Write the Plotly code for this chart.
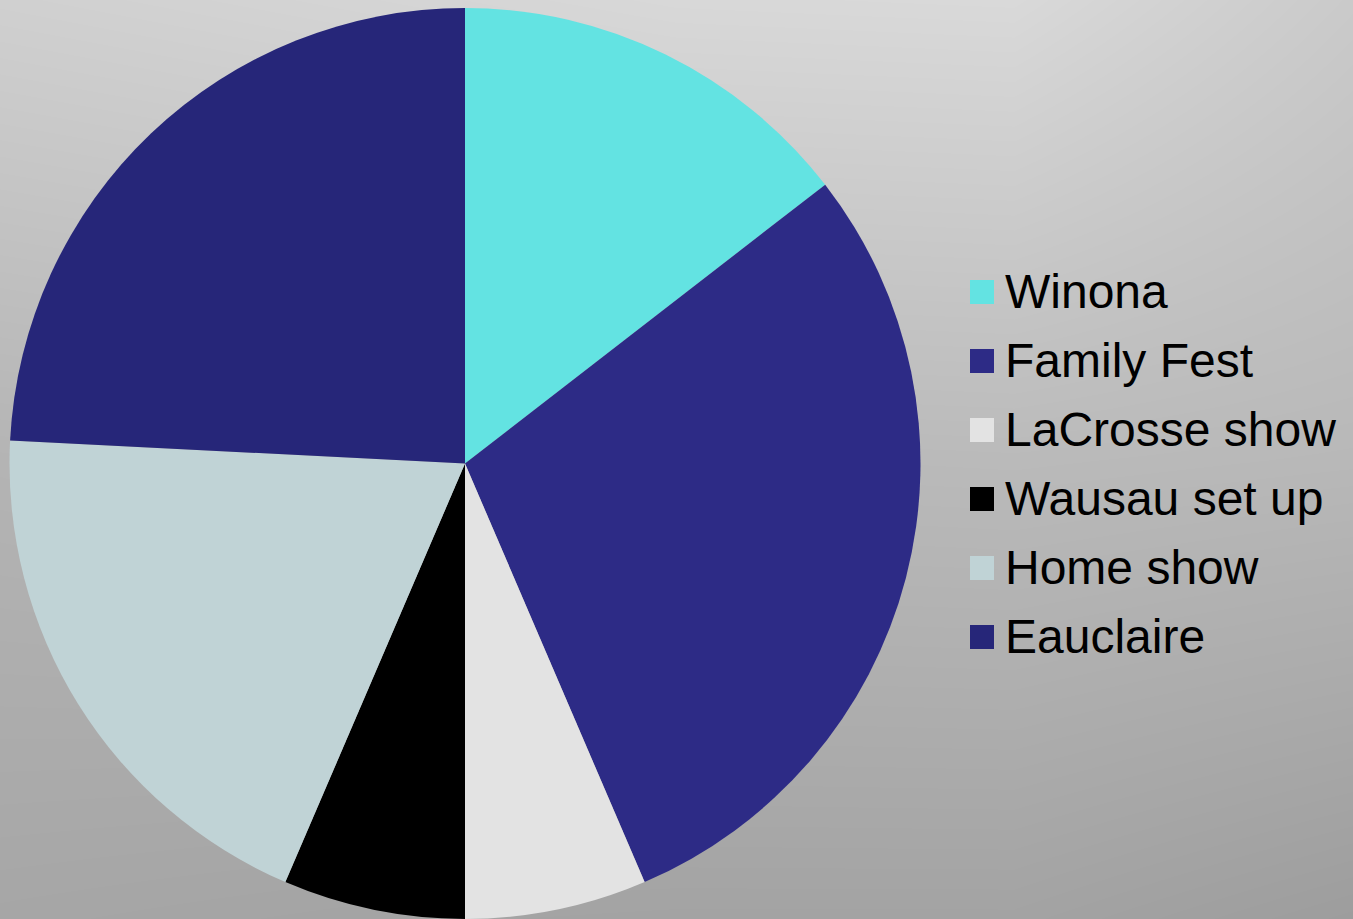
import plotly.graph_objects as go

# ---- data ----
labels = ["Winona", "Family Fest", "LaCrosse show", "Wausau set up", "Home show", "Eauclaire"]
values = [9, 18, 4, 4, 12, 15]
colors = ["#63E3E2", "#2D2B86", "#E3E3E3", "#000000", "#C0D3D6", "#262679"]

W, H = 1353, 919

# ---- background gradient (style only) ----
bg_x = [0, 338, 676, 1014, 1353]
bg_y = [0, 460, 919]
bg_z = [
    [208, 212, 216, 217, 202],
    [180, 183, 185, 186, 184],
    [166, 164, 163, 163, 157],
]

fig = go.Figure()
fig.add_trace(go.Heatmap(
    x=bg_x, y=bg_y, z=bg_z, zmin=0, zmax=255, zsmooth="best",
    colorscale=[[0, "rgb(0,0,0)"], [1, "rgb(255,255,255)"]],
    showscale=False, hoverinfo="skip",
))

fig.add_trace(go.Pie(
    labels=labels, values=values, sort=False, direction="clockwise", rotation=0,
    marker=dict(colors=colors, line=dict(width=0)),
    textinfo="none", hoverinfo="label+value+percent",
    domain=dict(x=[9 / W, 921 / W], y=[0, (H - 8) / H]),
    showlegend=False,
))

# ---- custom legend (large squares like the original) ----
leg_x0, sq = 970, 24
row0, step = 292, 69
shapes, annos = [], []
for i, (lab, col) in enumerate(zip(labels, colors)):
    cy = row0 + i * step
    shapes.append(dict(type="rect", xref="x", yref="y",
                       x0=leg_x0, x1=leg_x0 + sq, y0=cy - sq / 2, y1=cy + sq / 2,
                       fillcolor=col, line=dict(width=0), layer="above"))
    annos.append(dict(xref="x", yref="y", x=1003, y=cy - 1, text=lab, showarrow=False,
                      xanchor="left", yanchor="middle",
                      font=dict(family="Liberation Sans, Arial, sans-serif", size=48, color="#000000")))

fig.update_layout(
    width=W, height=H, margin=dict(l=0, r=0, t=0, b=0),
    paper_bgcolor="#c0c0c0", plot_bgcolor="rgba(0,0,0,0)",
    xaxis=dict(range=[0, W], visible=False, fixedrange=True, domain=[0, 1]),
    yaxis=dict(range=[H, 0], visible=False, fixedrange=True, domain=[0, 1]),
    shapes=shapes, annotations=annos, showlegend=False,
)

fig.write_html("out.html")
